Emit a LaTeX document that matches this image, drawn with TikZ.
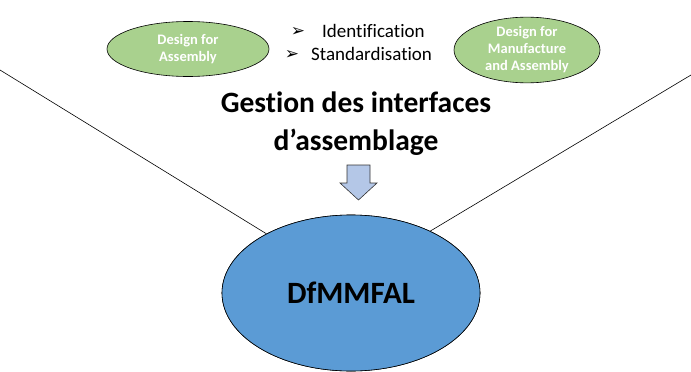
\documentclass[tikz,border=0pt]{standalone}
\usepackage{fontspec}
\setmainfont{Carlito}[Ligatures={NoCommon}]
\newfontfamily\symfont{DejaVu Sans}
\usetikzlibrary{shapes.geometric}
\definecolor{greenfill}{HTML}{A9D18E}
\definecolor{bluefill}{HTML}{5B9BD5}
\definecolor{arrowfill}{HTML}{B4C7E7}
\begin{document}
\begin{tikzpicture}[x=1pt,y=-1pt,
  greenell/.style={ellipse,draw=black,line width=0.6pt,fill=greenfill,minimum width=#1,text=white,font=\fontsize{14.5}{17}\selectfont\bfseries,align=center,inner sep=0pt},
  bullettext/.style={font=\fontsize{19}{22}\selectfont,anchor=west,inner sep=0pt},
  bulletsym/.style={font=\symfont\fontsize{17}{19}\selectfont,inner sep=0pt}]
\useasboundingbox (0,0) rectangle (691,372);
\coordinate (lend) at (0,70);
\coordinate (rend) at (691,75);
\node[ellipse,draw=black,line width=0.6pt,fill=bluefill,minimum width=258,minimum height=156,inner sep=0pt] (main) at (351,293) {};
\draw[line width=0.6pt] (lend) -- (main.145);
\draw[line width=0.6pt] (rend) -- (main.38);
\node[ellipse,draw=black,line width=0.6pt,fill=bluefill,minimum width=258,minimum height=156,inner sep=0pt,font=\fontsize{31}{36}\selectfont\bfseries] (main2) at (351,293) {DfMMFAL};
\node[greenell=162,minimum height=55] (dfa) at (188,49) {Design for\\Assembly};
\node[greenell=146,minimum height=59] (dfma) at (527,50) {Design for\\Manufacture\\and Assembly};
\node[bulletsym] (s1) at (298,32) {➢};
\node[bulletsym] (s2) at (292,55) {➢};
\node[bullettext] (b1) at (322,31) {Identification};
\node[bullettext] (b2) at (311,54) {Standardisation};
\node[font=\fontsize{29.5}{38}\selectfont\bfseries,align=center] (title) at (356,124) {Gestion des interfaces\\d’assemblage};
\draw[draw=black!80,line width=0.6pt,fill=arrowfill]
  (347,165) -- (370,165) -- (370,183) -- (377,183) -- (358.5,200) -- (340,183) -- (347,183) -- cycle;
\end{tikzpicture}
\end{document}
